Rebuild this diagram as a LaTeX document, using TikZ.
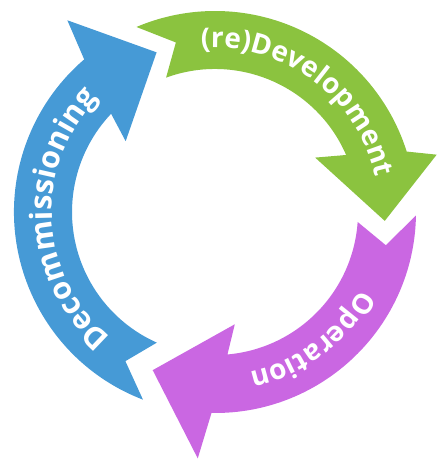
\documentclass[tikz,border=0pt]{standalone}
\usepackage{fontspec}
\setmainfont{Open Sans}
\usetikzlibrary{decorations.text}
\definecolor{devgreen}{RGB}{139,195,63}
\definecolor{opviolet}{RGB}{202,103,226}
\definecolor{decblue}{RGB}{70,154,214}
\newcommand{\ringin}{143}
\newcommand{\ringout}{201}
\newcommand{\labelfont}{\color{white}\bfseries}
% curved arrow: colour, tail angle, head angle, outer barb radius
\newcommand{\cyclearrow}[4]{%
  \fill[#1] (#2:\ringout) arc[start angle=#2, end angle=#3+3, radius=\ringout]
    -- (#3:#4) -- (#3-17.5:170) -- (#3+14:114) -- (#3+9:\ringin)
    arc[start angle=#3+9, end angle=#2-3, radius=\ringin]
    -- (#2-10:174) -- cycle;}
\tikzset{
        x=1pt, y=1pt,
        ringlabel/.style 2 args={decorate, decoration={text along path, text align=center,
          text={|\labelfont\fontsize{#2}{32}\selectfont|#1}}}
          }
\begin{document}
\begin{tikzpicture}
            \useasboundingbox (-215,-248) rectangle (223,212);
            \cyclearrow{devgreen}{113}{14.5}{229}
            \cyclearrow{opviolet}{-1}{-94}{247}
            \cyclearrow{decblue}{249}{127.6}{242}
            \path[ringlabel={(re)Development}{28}] (113:164) arc[start angle=113, end angle=-6, radius=164];
            \path[ringlabel={Operation}{28}] (7:164) arc[start angle=7, end angle=-113, radius=164];
            \path[ringlabel={Decommissioning}{30.5}] (244:163) arc[start angle=244, end angle=122, radius=163];
          \end{tikzpicture}
\end{document}
